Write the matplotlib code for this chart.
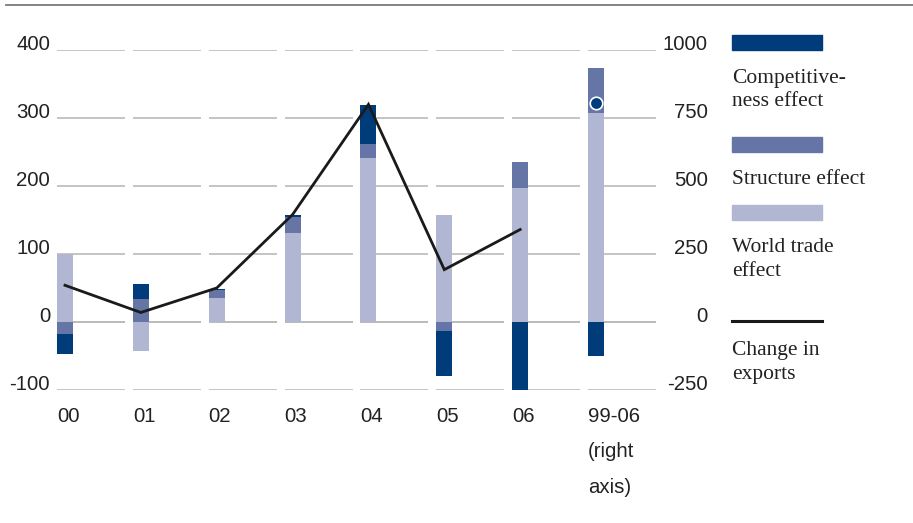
import matplotlib
matplotlib.use("Agg")
import matplotlib.pyplot as plt
from matplotlib.lines import Line2D

# yearly contributions (left axis), last column is cumulative 99-06 (right axis)
years = ["00", "01", "02", "03", "04", "05", "06"]
world_trade = [100, -42, 35, 131, 241, 157, 197]
structure = [-18, 34, 12, 23, 21, -13, 39]
competitiveness = [-29, 22, 2, 4, 57, -67, -100]
change_exports = [54, 14, 50, 158, 320, 77, 136]

cum_label = "99-06\n(right\naxis)"
cum_world_trade = 768
cum_structure = 166
cum_competitiveness = -124
cum_change = 805

DARK = "#003b7a"
MID = "#6576a6"
LIGHT = "#b1b6d2"
GRID = "#b4b4b4"

plt.rcParams["font.family"] = ["Liberation Sans", "DejaVu Sans"]

fig = plt.figure(figsize=(9.13, 5.23), dpi=100)
ax = fig.add_axes([57 / 913, 1 - 390 / 523, (656 - 57) / 913, 340 / 523])
ax2 = ax.twinx()

bw = 0.21
off = -0.105        # left edge of a bar relative to its category
seg = 0.79          # right end of a grid segment relative to its category


def stack(axis, x, vals, colors):
    pos, neg = 0, 0
    for v, c in zip(vals, colors):
        if v >= 0:
            axis.bar(x + off, v, bottom=pos, width=bw, align="edge", color=c, zorder=3)
            pos += v
        else:
            axis.bar(x + off, v, bottom=neg, width=bw, align="edge", color=c, zorder=3)
            neg += v


xs = list(range(len(years)))
for i in xs:
    stack(ax, i, [world_trade[i], structure[i], competitiveness[i]], [LIGHT, MID, DARK])
ax.plot(xs, change_exports, color="#1a1a1a", lw=2.0, zorder=5, solid_joinstyle="miter")

xc = len(years)
stack(ax2, xc, [cum_world_trade, cum_structure, cum_competitiveness], [LIGHT, MID, DARK])
ax2.plot([xc], [cum_change], "o", ms=9, mfc=DARK, mec="white", mew=1.2, zorder=6)

# broken grid lines, one segment per category
left_ticks = [-100, 0, 100, 200, 300, 400]
for y in left_ticks:
    for i in range(len(years) + 1):
        ax.plot([i + off, i + seg], [y, y], color=GRID, lw=1.3 if y == 0 else 1.1,
                zorder=1, solid_capstyle="butt")

ax.set_xlim(off, xc + seg)
ax.set_ylim(-100, 400)
ax2.set_ylim(-250, 1000)

ax.set_yticks(left_ticks)
ax.set_yticklabels([str(t) for t in left_ticks], va="baseline")
ax2.set_yticks([-250, 0, 250, 500, 750, 1000])
ax2.set_yticklabels(["-250", "0", "250", "500", "750", "1000"], ha="right", va="baseline")
ax.tick_params(axis="y", length=0, pad=5, labelsize=14.7, labelcolor="#222222")
ax2.tick_params(axis="y", length=0, pad=37.4, labelsize=14.7, labelcolor="#222222")

ax.set_xticks([i + off for i in range(len(years) + 1)])
ax.set_xticklabels(years + [cum_label], ha="left", va="top", linespacing=2.1)
ax.tick_params(axis="x", length=0, pad=12, labelsize=14.7, labelcolor="#222222")

for a in (ax, ax2):
    for s in a.spines.values():
        s.set_visible(False)
    a.patch.set_visible(False)

# rule across the top
fig.add_artist(Line2D([6 / 913, 1], [1 - 5 / 523, 1 - 5 / 523], color="#7a7a7a", lw=1.3))

# legend on the right
def fx(px):
    return px / 913


def fy(py):
    return 1 - py / 523


for top, c in [(35, DARK), (137, MID), (205, LIGHT)]:
    fig.add_artist(plt.Rectangle((fx(732), fy(top + 15)), fx(822) - fx(732), 15 / 523,
                                 color=c, transform=fig.transFigure))
fig.add_artist(Line2D([fx(732), fx(822)], [fy(321), fy(321)], color="#1a1a1a", lw=2.2))

serif = ["Liberation Serif", "DejaVu Serif"]
legend_text = [(78, "Competitive-"), (101, "ness effect"), (180, "Structure effect"),
               (248, "World trade"), (271, "effect"), (351, "Change in"), (374, "exports")]
for py, t in legend_text:
    fig.text(fx(732), fy(py), t, family=serif, fontsize=15.5, color="#222222",
             ha="left", va="center")

fig.savefig("out.png", dpi=100)
